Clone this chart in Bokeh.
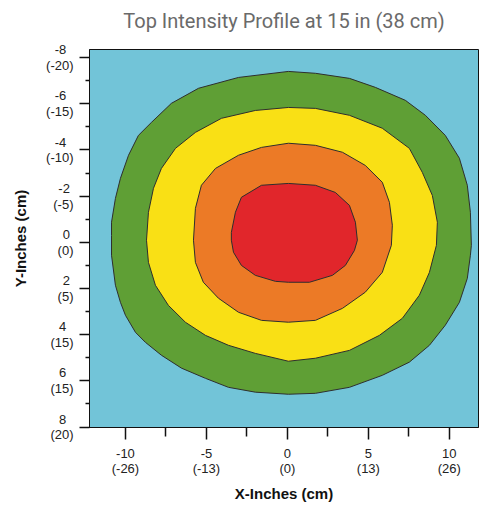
from bokeh.plotting import figure
from bokeh.models import Range1d, FixedTicker, LinearAxis
from bokeh.embed import file_html
from bokeh.resources import INLINE

# ---- data (inches) ----
title_text = "Top Intensity Profile at 15 in (38 cm)"

x_ticks = [-10, -5, 0, 5, 10]
x_minor = [-7.5, -2.5, 2.5, 7.5]
x_labels = ["-10\n(-26)", "-5\n(-13)", "0\n(0)", "5\n(13)", "10\n(26)"]

y_ticks = [-8, -6, -4, -2, 0, 2, 4, 6, 8]
y_minor = [-7, -5, -3, -1, 1, 3, 5, 7]
y_labels = ["-8\n(-20)", "-6\n(-15)", "-4\n(-10)", "-2\n(-5)", "0\n(0)",
            "2\n(5)", "4\n(15)", "6\n(15)", "8\n(20)"]

# outer boundary of green band
green_x = [0.06, 1.73, 3.83, 5.43, 7.28, 8.52, 9.75, 10.62, 11.11, 11.30, 11.36, 11.30,
           11.11, 10.62, 9.75, 8.77, 7.53, 5.86, 3.83, 1.73, 0.06, -1.98, -3.64, -5.06,
           -6.54, -7.78, -8.77, -9.38, -10.0, -10.31, -10.62, -10.86, -10.86, -10.86,
           -10.62, -10.31, -9.81, -9.20, -8.40, -7.16, -5.49, -3.02]
green_y = [-7.40, -7.32, -7.10, -6.71, -6.15, -5.50, -4.63, -3.64, -2.47, -1.30, 0.13, 0.56,
           1.56, 2.60, 3.59, 4.46, 5.19, 5.76, 6.28, 6.54, 6.58, 6.49, 6.28, 5.89,
           5.45, 4.89, 4.33, 3.90, 3.16, 2.60, 1.86, 0.56, -0.30, -0.87,
           -1.90, -2.77, -3.77, -4.63, -5.19, -6.02, -6.67, -7.14]

# outer boundary of yellow band
yellow_x = [0.06, 1.73, 3.83, 5.86, 7.53, 8.33, 8.95, 9.26, 9.20, 8.77, 8.15, 7.10, 5.68,
            3.83, 1.73, 0.06, -1.98, -3.64, -5.06, -6.30, -7.35, -8.15, -8.58, -8.70,
            -8.58, -8.27, -7.78, -6.91, -5.68, -4.07, -1.98]
yellow_y = [-5.84, -5.80, -5.50, -4.94, -4.07, -3.03, -2.03, -0.87, 0.13, 1.30, 2.29, 3.29, 4.03,
            4.68, 5.02, 5.15, 4.81, 4.46, 4.03, 3.46, 2.73, 1.86, 0.87, -0.09,
            -1.30, -2.34, -3.20, -4.07, -4.76, -5.37, -5.71]

# outer boundary of orange band
orange_x = [0.06, 1.73, 3.40, 4.81, 5.86, 6.30, 6.48, 6.42, 5.86, 4.81, 3.40, 1.73, 0.06,
            -1.60, -3.02, -4.26, -5.19, -5.68, -5.80, -5.68, -5.31, -4.44, -3.02, -1.60]
orange_y = [-4.29, -4.20, -3.90, -3.33, -2.60, -1.73, -0.74, 0.13, 1.30, 2.16, 2.86, 3.38, 3.46,
            3.38, 3.03, 2.42, 1.73, 0.87, -0.09, -1.47, -2.47, -3.20, -3.77, -4.11]

# boundary of red core
red_x = [0.06, 1.73, 2.96, 3.83, 4.20, 4.32, 4.14, 3.58, 2.78, 1.36, 0.06, -0.74, -1.98,
         -2.84, -3.33, -3.46, -3.46, -3.21, -2.84, -1.60]
red_y = [-2.55, -2.47, -2.16, -1.60, -0.87, -0.09, 0.35, 1.00, 1.43, 1.73, 1.73, 1.69, 1.43,
         1.00, 0.43, -0.09, -0.43, -1.30, -1.95, -2.47]

band_colors = ["#5f9f35", "#f9e015", "#ec7a26", "#e1262b"]
bg_color = "#72c4d8"


def centred(label):
    """Pad the shorter line of a two-line right-aligned tick label so both lines look centred."""
    widths = {"-": 0.333, "(": 0.333, ")": 0.333}
    lines = label.split("\n")
    w = [sum(widths.get(c, 0.556) for c in ln) for ln in lines]
    n = int(round((max(w) - min(w)) / 2 / 0.278))
    i = w.index(min(w))
    lines[i] = lines[i] + "\u00a0" * n
    return "\n".join(lines)


p = figure(width=482, height=506, output_backend="svg", toolbar_location=None,
           x_range=Range1d(-12.22, 11.8), y_range=Range1d(8.02, -8.35),
           min_border_left=89, min_border_right=4, min_border_top=49, min_border_bottom=79)

p.background_fill_color = bg_color
p.outline_line_color = "#111111"
p.outline_line_width = 1
p.grid.visible = False
p.border_fill_color = "white"

p.patches([green_x, yellow_x, orange_x, red_x], [green_y, yellow_y, orange_y, red_y],
          fill_color=band_colors, line_color="#2e2e2e", line_width=1)

xa = p.below[0]
ya = p.left[0]

# chart title, carried by a bare axis above the frame so its height can be set exactly
title_axis = LinearAxis(ticker=FixedTicker(ticks=[], minor_ticks=[]), axis_label=title_text,
                        axis_line_color=None, major_tick_line_color=None,
                        minor_tick_line_color=None, major_tick_out=0, minor_tick_out=0,
                        major_tick_in=0, minor_tick_in=0, major_label_standoff=0,
                        axis_label_standoff=17,
                        axis_label_text_font="Roboto", axis_label_text_font_style="normal",
                        axis_label_text_font_size="20px", axis_label_text_color="#6a6a6a")
p.add_layout(title_axis, "above")

xa.ticker = FixedTicker(ticks=x_ticks, minor_ticks=x_minor)
ya.ticker = FixedTicker(ticks=y_ticks, minor_ticks=y_minor)
xa.major_label_overrides = {t: l for t, l in zip(x_ticks, x_labels)}
ya.major_label_overrides = {t: centred(l) for t, l in zip(y_ticks, y_labels)}

for ax in (xa, ya):
    ax.axis_line_color = "#111111"
    ax.major_tick_line_color = "#111111"
    ax.minor_tick_line_color = "#111111"
    ax.major_tick_line_width = 1.5
    ax.minor_tick_line_width = 1.5
    ax.major_label_text_font = "Liberation Sans"
    ax.major_label_text_font_size = "13px"
    ax.major_label_text_line_height = 1.05
    ax.major_label_text_color = "#222222"
    ax.axis_label_text_font = "Liberation Sans"
    ax.axis_label_text_font_style = "bold"
    ax.axis_label_text_font_size = "15px"
    ax.axis_label_text_color = "#111111"

xa.major_tick_in = 0
xa.major_tick_out = 12
xa.minor_tick_in = 0
xa.minor_tick_out = 9
ya.major_tick_in = 0
ya.major_tick_out = 10
ya.minor_tick_in = 0
ya.minor_tick_out = 4
xa.major_label_standoff = 6
ya.major_label_standoff = 6
xa.axis_label = "X-Inches (cm)"
ya.axis_label = "Y-Inches (cm)"
xa.axis_label_standoff = 6
ya.axis_label_standoff = 14

open("out.html", "w").write(file_html(p, INLINE))
